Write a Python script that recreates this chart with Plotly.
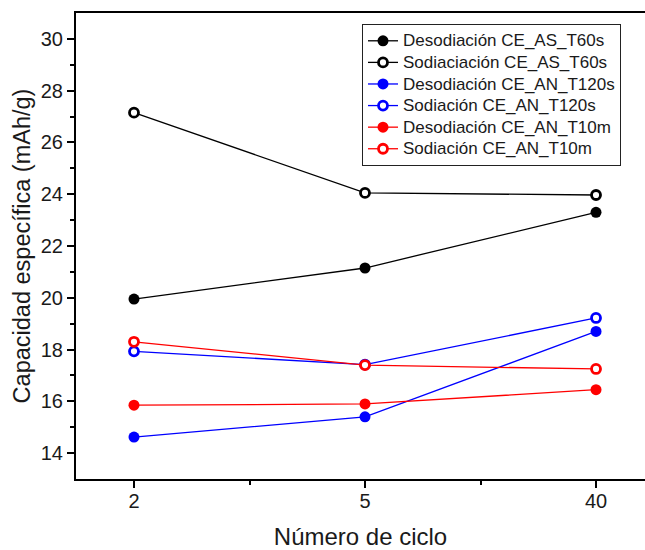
import plotly.graph_objects as go

cycles = ["2", "5", "40"]
des_as_t60 = [19.95, 21.15, 23.3]
sod_as_t60 = [27.15, 24.05, 23.97]
des_an_t120 = [14.62, 15.4, 18.7]
sod_an_t120 = [17.93, 17.42, 19.22]
des_an_t10m = [15.85, 15.9, 16.45]
sod_an_t10m = [18.3, 17.4, 17.25]

series = [
    ("Desodiación CE_AS_T60s", des_as_t60, "black", True),
    ("Sodiaciación CE_AS_T60s", sod_as_t60, "black", False),
    ("Desodiación CE_AN_T120s", des_an_t120, "blue", True),
    ("Sodiación CE_AN_T120s", sod_an_t120, "blue", False),
    ("Desodiación CE_AN_T10m", des_an_t10m, "red", True),
    ("Sodiación CE_AN_T10m", sod_an_t10m, "red", False),
]

xpos = list(range(len(cycles)))

fig = go.Figure()
for name, vals, col, filled in series:
    if filled:
        marker = dict(symbol="circle", size=11, color=col, line=dict(width=0))
    else:
        marker = dict(symbol="circle", size=9, color="white", line=dict(width=2.8, color=col))
    fig.add_trace(go.Scatter(
        x=xpos, y=vals, mode="lines+markers",
        name="<span style='font-size:17px'>" + name + "</span>",
        line=dict(color=col, width=1.3), marker=marker,
    ))

font_family = "Liberation Sans, Arial, sans-serif"
# plot area spans x 76..(beyond 645), y 13..479
fig.update_layout(
    width=645, height=550,
    margin=dict(l=76, r=0, t=13, b=71),
    paper_bgcolor="white", plot_bgcolor="white",
    font=dict(family=font_family, color="#1a1a1a"),
    showlegend=True,
    legend=dict(
        x=286/569, xanchor="left",
        y=1 - 11/466, yanchor="top",
        bordercolor="#222", borderwidth=1, bgcolor="white",
        font=dict(size=14.3, family=font_family, color="#1a1a1a"),
        tracegroupgap=0, itemwidth=30,
    ),
    xaxis=dict(
        range=[-0.251, 2.212],
        tickmode="array", tickvals=xpos, ticktext=cycles,
        showgrid=False, zeroline=False,
        showline=True, linecolor="black", linewidth=2, mirror=True,
        ticks="outside", ticklen=7, tickwidth=2, tickcolor="black",
        tickfont=dict(size=20), ticklabelstandoff=-4,
        minor=dict(tickmode="array", tickvals=[0.5, 1.5], ticks="outside", ticklen=4, tickwidth=2, tickcolor="black"),
        title=dict(text="Número de ciclo", font=dict(size=24), standoff=20),
        automargin=False,
    ),
    yaxis=dict(
        range=[13, 31],
        tickmode="array", tickvals=[14, 16, 18, 20, 22, 24, 26, 28, 30],
        showgrid=False, zeroline=False,
        showline=True, linecolor="black", linewidth=2, mirror=False,
        ticks="outside", ticklen=7, tickwidth=2, tickcolor="black",
        tickfont=dict(size=20),
        minor=dict(tickmode="array", tickvals=[15, 17, 19, 21, 23, 25, 27, 29], ticks="outside", ticklen=4, tickwidth=2, tickcolor="black"),
        title=dict(text="Capacidad específica (mAh/g)", font=dict(size=23.5), standoff=4),
        automargin=False,
    ),
)

fig.write_html(
    "out.html",
    config={"displayModeBar": False},
    post_script="document.documentElement.style.overflow='hidden';document.body.style.margin='0';document.body.style.overflow='hidden';",
)
